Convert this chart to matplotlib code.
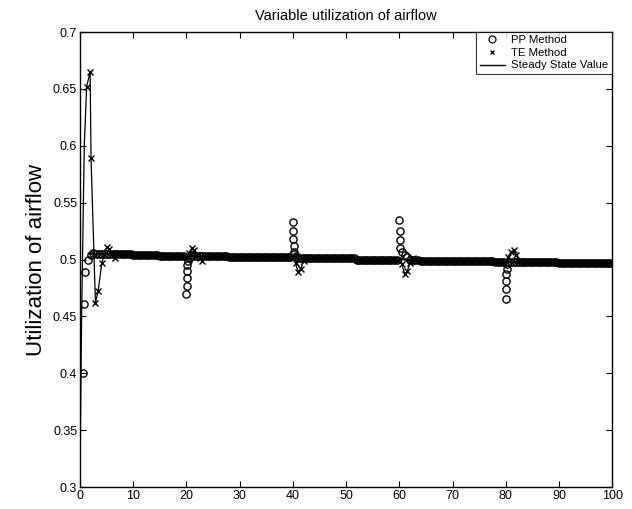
import numpy as np
import matplotlib
matplotlib.use("Agg")
import matplotlib.pyplot as plt
from matplotlib.lines import Line2D

# ---------------- data ----------------
# steady-state value on a 0.5 time grid, t = 2.0 ... 100.0
ss_t = np.arange(2.0, 100.01, 0.5)
ss_v = [
    0.505, 0.505, 0.505, 0.505, 0.505, 0.505, 0.505, 0.505, 0.505, 0.505,
    0.505, 0.505, 0.505, 0.505, 0.505, 0.505, 0.504, 0.504, 0.504, 0.504,
    0.504, 0.504, 0.504, 0.504, 0.504, 0.504, 0.503, 0.503, 0.503, 0.503,
    0.503, 0.503, 0.503, 0.503, 0.503, 0.503, 0.503, 0.503, 0.503, 0.503,
    0.503, 0.503, 0.503, 0.503, 0.503, 0.503, 0.503, 0.503, 0.503, 0.503,
    0.503, 0.503, 0.502, 0.502, 0.502, 0.502, 0.502, 0.502, 0.502, 0.502,
    0.502, 0.502, 0.502, 0.502, 0.502, 0.502, 0.502, 0.502, 0.502, 0.502,
    0.502, 0.502, 0.502, 0.502, 0.502, 0.502, 0.501, 0.501, 0.501, 0.501,
    0.501, 0.501, 0.501, 0.501, 0.501, 0.501, 0.501, 0.501, 0.501, 0.501,
    0.501, 0.501, 0.501, 0.501, 0.501, 0.501, 0.501, 0.501, 0.501, 0.501,
    0.500, 0.500, 0.500, 0.500, 0.500, 0.500, 0.500, 0.500, 0.500, 0.500,
    0.500, 0.500, 0.500, 0.500, 0.500, 0.500, 0.500, 0.500, 0.500, 0.500,
    0.500, 0.500, 0.500, 0.500, 0.499, 0.499, 0.499, 0.499, 0.499, 0.499,
    0.499, 0.499, 0.499, 0.499, 0.499, 0.499, 0.499, 0.499, 0.499, 0.499,
    0.499, 0.499, 0.499, 0.499, 0.499, 0.499, 0.499, 0.499, 0.499, 0.499,
    0.499, 0.499, 0.498, 0.498, 0.498, 0.498, 0.498, 0.498, 0.498, 0.498,
    0.498, 0.498, 0.498, 0.498, 0.498, 0.498, 0.498, 0.498, 0.498, 0.498,
    0.498, 0.498, 0.498, 0.498, 0.498, 0.498, 0.497, 0.497, 0.497, 0.497,
    0.497, 0.497, 0.497, 0.497, 0.497, 0.497, 0.497, 0.497, 0.497, 0.497,
    0.497, 0.497, 0.497, 0.497, 0.497, 0.497, 0.497,
]

# PP method transients (start-up and the four disturbances)
pp_start_t = [0.5, 0.8, 1.0, 1.5, 2.0, 2.5]
pp_start_v = [0.400, 0.461, 0.489, 0.500, 0.504, 0.506]
pp_d20_t = [20.0, 20.04, 20.08, 20.12, 20.17, 20.25, 20.4, 20.7, 21.0]
pp_d20_v = [0.470, 0.477, 0.484, 0.490, 0.495, 0.499, 0.501, 0.502, 0.503]
pp_d40_t = [40.0, 40.04, 40.08, 40.12, 40.17, 40.3, 40.5, 40.8, 41.0]
pp_d40_v = [0.533, 0.525, 0.518, 0.512, 0.507, 0.505, 0.503, 0.502, 0.501]
pp_d60_t = [60.0, 60.04, 60.08, 60.12, 60.5, 61.0, 61.5, 62.0]
pp_d60_v = [0.535, 0.525, 0.517, 0.510, 0.507, 0.504, 0.502, 0.500]
pp_d80_t = [80.0, 80.04, 80.08, 80.12, 80.17, 80.3, 80.5]
pp_d80_v = [0.465, 0.474, 0.481, 0.487, 0.492, 0.496, 0.498]

# TE method: initial rise of the trace (line only), then sampled points
te_rise_t = [0.0, 0.1, 0.3, 0.8]
te_rise_v = [0.300, 0.360, 0.450, 0.600]
te_start_t = [1.25, 1.9, 2.07, 2.9, 3.4, 4.1, 5.0, 5.5, 6.0, 6.6, 7.0]
te_start_v = [0.652, 0.665, 0.589, 0.462, 0.472, 0.497,
              0.511, 0.509, 0.506, 0.5015, 0.505]
te_d20_t = [20.0, 20.5, 21.0, 21.5, 22.0, 22.5, 23.0, 23.5]
te_d20_v = [0.503, 0.506, 0.510, 0.508, 0.504, 0.501, 0.499, 0.502]
te_d40_t = [40.0, 40.5, 41.0, 41.5, 42.0, 42.5]
te_d40_v = [0.501, 0.497, 0.489, 0.492, 0.499, 0.502]
te_d60_t = [60.0, 60.5, 61.0, 61.5, 62.0, 62.5]
te_d60_v = [0.500, 0.496, 0.487, 0.490, 0.497, 0.501]
te_d80_t = [80.0, 80.5, 81.0, 81.5, 82.0, 82.5, 83.0]
te_d80_v = [0.4985, 0.502, 0.507, 0.508, 0.504, 0.499, 0.497]

x_ticks = [0, 10, 20, 30, 40, 50, 60, 70, 80, 90, 100]
y_ticks = [0.3, 0.35, 0.4, 0.45, 0.5, 0.55, 0.6, 0.65, 0.7]
y_tick_labels = ["0.3", "0.35", "0.4", "0.45", "0.5", "0.55", "0.6", "0.65", "0.7"]
title = "Variable utilization of airflow"
ylabel = "Utilization of airflow"
legend_labels = ["PP Method", "TE Method", "Steady State Value"]

# ---------------- build series ----------------
assert len(ss_v) == len(ss_t)
ss_t = np.asarray(ss_t)
ss_v = np.asarray(ss_v)


def combine(base_t, base_v, pieces):
    keep = np.ones(len(base_t), dtype=bool)
    for t, _ in pieces:
        keep &= ~((base_t >= min(t) - 1e-9) & (base_t <= max(t) + 1e-9))
    ts = list(base_t[keep])
    vs = list(base_v[keep])
    for t, v in pieces:
        ts += list(t)
        vs += list(v)
    order = np.argsort(ts, kind="stable")
    return np.asarray(ts)[order], np.asarray(vs)[order]


pp_t, pp_v = combine(ss_t, ss_v, [(pp_start_t, pp_start_v), (pp_d20_t, pp_d20_v),
                                  (pp_d40_t, pp_d40_v), (pp_d60_t, pp_d60_v),
                                  (pp_d80_t, pp_d80_v)])
te_t, te_v = combine(ss_t, ss_v, [(te_start_t, te_start_v), (te_d20_t, te_d20_v),
                                  (te_d40_t, te_d40_v), (te_d60_t, te_d60_v),
                                  (te_d80_t, te_d80_v)])
te_line_t = np.concatenate([te_rise_t, te_t])
te_line_v = np.concatenate([te_rise_v, te_v])

# ---------------- figure ----------------
plt.rcParams['font.family'] = ['Liberation Sans Narrow', 'Liberation Sans', 'DejaVu Sans']

fig = plt.figure(figsize=(6.32, 5.09), dpi=100)
ax = fig.add_axes([0.1266, 0.043, 0.842, 0.894])

ax.plot(ss_t, ss_v, color='black', lw=1.2, zorder=2)
ax.plot(te_line_t, te_line_v, color='black', lw=0.9, zorder=2)
ax.plot(te_t, te_v, ls='none', marker='x', ms=3.8, mew=1.0, color='black', zorder=3)
ax.plot(pp_t, pp_v, ls='none', marker='o', ms=5.2, mew=1.0, mfc='none', mec='black', zorder=4)

ax.set_xlim(0, 100)
ax.set_ylim(0.3, 0.7)
ax.set_xticks(x_ticks)
ax.set_xticklabels([str(v) for v in x_ticks])
ax.set_yticks(y_ticks)
ax.set_yticklabels(y_tick_labels)
ax.tick_params(direction='in', length=4, width=0.8, top=True, right=True,
               labelsize=9, pad=2, colors='black')
for s in ax.spines.values():
    s.set_linewidth(1.0)
    s.set_color('black')

ax.set_title(title, fontsize=10.5, pad=9, family=['Liberation Sans', 'DejaVu Sans'])
ax.set_ylabel(ylabel, fontsize=16, labelpad=4, family=['Liberation Sans', 'DejaVu Sans'])

handles = [
    Line2D([], [], ls='none', marker='o', ms=5, mew=0.9, mfc='none', mec='black'),
    Line2D([], [], ls='none', marker='x', ms=3.5, mew=0.9, color='black'),
    Line2D([], [], color='black', lw=1.0),
]
leg = ax.legend(handles, legend_labels, loc='upper right', borderaxespad=0.0,
                fancybox=False, frameon=True, edgecolor='black',
                handlelength=2.2, labelspacing=0.22, borderpad=0.3,
                handletextpad=0.6, prop={'family': ['Liberation Sans', 'DejaVu Sans'], 'size': 8.2})
leg.get_frame().set_linewidth(0.8)

fig.savefig("out.png", dpi=100, facecolor='white')
